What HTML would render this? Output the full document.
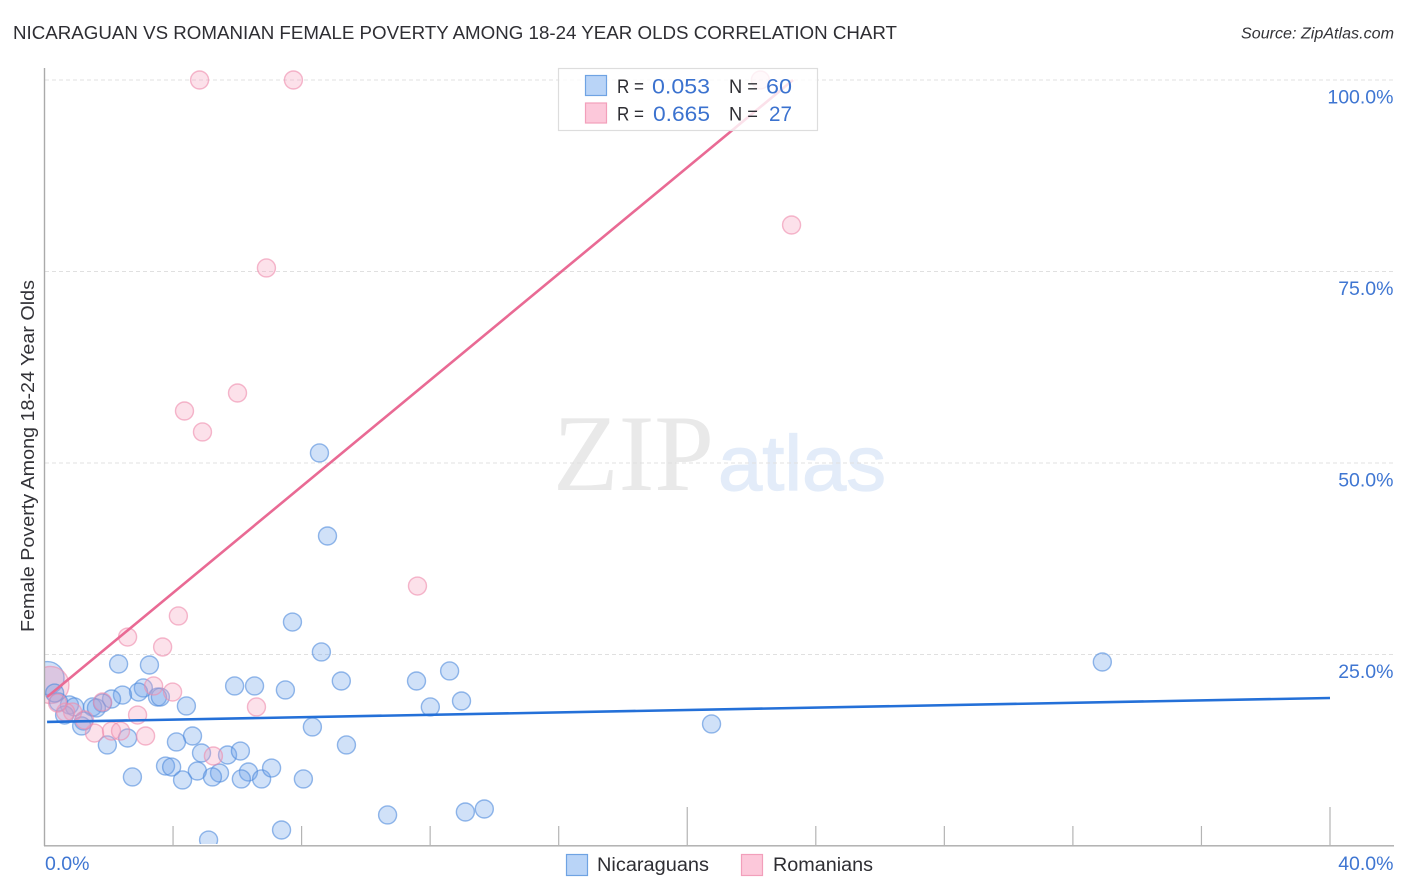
<!DOCTYPE html>
<html lang="en">
<head>
<meta charset="utf-8">
<title>Nicaraguan vs Romanian Female Poverty Among 18-24 Year Olds Correlation Chart</title>
<style>
html,body{margin:0;padding:0;background:#fff;}
svg{display:block;font-family:"Liberation Sans",sans-serif;}
</style>
</head>
<body>
<svg id="chart" xmlns="http://www.w3.org/2000/svg" width="1406" height="892" viewBox="0 0 1406 892">
  <defs>
    <clipPath id="plot-clip"><rect x="45" y="60" width="1349" height="784"/></clipPath>
  </defs>
  <rect x="0" y="0" width="1406" height="892" fill="#ffffff"/>
  <text x="13" y="39" font-size="18.5" fill="#2e2e33" textLength="884" lengthAdjust="spacingAndGlyphs">NICARAGUAN VS ROMANIAN FEMALE POVERTY AMONG 18-24 YEAR OLDS CORRELATION CHART</text>
  <text x="1241" y="38.5" font-size="15.5" font-style="italic" fill="#333338" textLength="153" lengthAdjust="spacingAndGlyphs">Source: ZipAtlas.com</text>

  <g>
    <text x="553" y="490" font-family="'Liberation Serif',serif" font-size="109" fill="#e9e9e9" textLength="161" lengthAdjust="spacingAndGlyphs">ZIP</text>
    <text x="718" y="490" font-size="78" fill="#e3ecf9" stroke="#e3ecf9" stroke-width="1.2" textLength="168" lengthAdjust="spacingAndGlyphs">atlas</text>
  </g>

  <g id="grid-layer"></g>
  <g id="points-layer" clip-path="url(#plot-clip)"></g>
  <g id="trend-layer"></g>
  <g id="axis-layer"></g>

  <text transform="translate(34,456) rotate(-90)" font-size="18" fill="#333338" text-anchor="middle" textLength="352" lengthAdjust="spacingAndGlyphs">Female Poverty Among 18-24 Year Olds</text>

  <g>
    <rect x="558.5" y="68.5" width="259" height="62" fill="#ffffff" fill-opacity="0.8" stroke="#dddddd" stroke-width="1.2"/>
    <rect x="585.5" y="75.5" width="21" height="20" fill="#b9d4f7" stroke="#6fa3e3" stroke-width="1.2"/>
    <rect x="585.5" y="103" width="21" height="20" fill="#fcc8da" stroke="#f29fbb" stroke-width="1.2"/>
    <text x="617" y="93" font-size="19" fill="#2e2e33" textLength="27" lengthAdjust="spacingAndGlyphs">R =</text>
    <text x="652" y="93.5" font-size="21.5" fill="#3b72cf" textLength="58" lengthAdjust="spacingAndGlyphs">0.053</text>
    <text x="729" y="93" font-size="19" fill="#2e2e33" textLength="29" lengthAdjust="spacingAndGlyphs">N =</text>
    <text x="766" y="93.5" font-size="21.5" fill="#3b72cf" textLength="26" lengthAdjust="spacingAndGlyphs">60</text>
    <text x="617" y="120.5" font-size="19" fill="#2e2e33" textLength="27" lengthAdjust="spacingAndGlyphs">R =</text>
    <text x="653" y="121" font-size="21.5" fill="#3b72cf" textLength="57" lengthAdjust="spacingAndGlyphs">0.665</text>
    <text x="729" y="120.5" font-size="19" fill="#2e2e33" textLength="29" lengthAdjust="spacingAndGlyphs">N =</text>
    <text x="769" y="121" font-size="21.5" fill="#3b72cf" textLength="23" lengthAdjust="spacingAndGlyphs">27</text>
  </g>

  <g>
    <rect x="566.5" y="854.5" width="21" height="21" fill="#b9d4f7" stroke="#6fa3e3" stroke-width="1.2"/>
    <text x="597" y="871" font-size="19" fill="#2e2e33" textLength="112" lengthAdjust="spacingAndGlyphs">Nicaraguans</text>
    <rect x="741.5" y="854.5" width="21" height="21" fill="#fcc8da" stroke="#f29fbb" stroke-width="1.2"/>
    <text x="773" y="871" font-size="19" fill="#2e2e33" textLength="100" lengthAdjust="spacingAndGlyphs">Romanians</text>
  </g>
</svg>
<script>
const nicaraguanX = [7.70,8.60,2.29,3.25,9.22,5.90,6.52,7.48,3.06,2.91,2.41,2.07,1.79,3.50,3.59,4.40,1.48,1.60,0.76,0.92,0.42,0.30,0.61,1.20,1.14,1.94,2.57,8.32,9.38,4.59,4.09,4.87,5.68,6.08,3.75,3.94,4.74,5.43,5.21,4.28,2.72,6.33,6.11,6.74,7.05,8.04,7.36,5.09,8.54,8.79,32.90,20.74,11.56,12.59,11.99,12.96,10.66,13.08,13.67];
const nicaraguanY = [29.24,25.33,23.76,23.63,21.54,20.89,20.89,20.37,20.63,20.10,19.71,19.19,18.67,19.45,19.45,18.28,18.15,18.02,18.41,18.15,18.80,19.97,17.10,16.32,15.67,13.19,14.10,15.54,13.19,14.36,13.58,12.14,11.88,12.40,10.44,10.31,9.79,9.53,9.01,8.62,9.01,9.66,8.75,8.75,10.18,8.75,2.09,0.78,51.31,40.47,24.02,15.93,21.54,22.85,18.15,18.93,4.05,4.44,4.83];
const romanianX = [4.81,7.73,22.26,23.23,6.89,5.99,4.34,4.90,11.59,4.15,2.57,3.66,3.38,3.97,6.58,2.88,3.13,1.54,2.07,2.35,5.24,1.79,1.23,0.86,0.64,0.39];
const romanianY = [100,100,100,81.07,75.46,59.14,56.79,54.05,33.94,30.03,27.28,25.98,20.89,20.10,18.15,17.10,14.36,14.75,15.01,15.01,11.75,18.80,16.45,17.49,17.49,18.67];
const nicaraguanLargeSampleX = [0.08];
const nicaraguanLargeSampleY = [21.93];
const romanianLargeSampleX = [0.17];
const romanianLargeSampleY = [21.02];
const nicaraguanTrendX = [0.08,40];
const nicaraguanTrendY = [16.19,19.32];
const romanianTrendX = [0.08,23.29];
const romanianTrendY = [19.45,100];
const yTickValues = [25,50,75,100];
const yTickLabels = ['25.0%','50.0%','75.0%','100.0%'];
const xTickValues = [4,8,12,16,20,24,28,32,36,40];
const xLongTickValues = [20,40];
const xEndValues = [0,40];
const xEndLabels = ['0.0%','40.0%'];

const SVG_NS = 'http://www.w3.org/2000/svg';
function xPos(v){ return 44.5 + v * (1330 - 44.5) / 40; }
function yPos(v){ return 846 - v * 7.66; }
function make(tag, parent, attrs){
  const el = document.createElementNS(SVG_NS, tag);
  Object.keys(attrs).forEach(function(k){ el.setAttribute(k, attrs[k]); });
  parent.appendChild(el);
  return el;
}
const gridLayer = document.getElementById('grid-layer');
const pointsLayer = document.getElementById('points-layer');
const trendLayer = document.getElementById('trend-layer');
const axisLayer = document.getElementById('axis-layer');

yTickValues.forEach(function(v, i){
  const line = make('line', gridLayer, {x1:45, x2:1394, y1:yPos(v), y2:yPos(v), stroke:'#e0e0e0', 'stroke-width':1, 'stroke-dasharray':'4 3'});
  
  
  const label = make('text', axisLayer, {x:1393.5, y:yPos(v) + 23.5, 'font-size':19.5, fill:'#3f76d2', 'text-anchor':'end'});
  
  
  label.textContent = yTickLabels[i];
});

function drawPoints(xs, ys, radius, fill, stroke, name){
  xs.forEach(function(x, i){
    const c = make('circle', pointsLayer, {cx:xPos(x) + 0.5, cy:yPos(ys[i]), r:radius, fill:fill, 'fill-opacity':0.32, stroke:stroke, 'stroke-opacity':0.6, 'stroke-width':1.4});
    
    
  });
}
drawPoints(nicaraguanLargeSampleX, nicaraguanLargeSampleY, 16.5, '#6ea3ea', '#4f8bdc', 'nicaraguan-large');
drawPoints(romanianLargeSampleX, romanianLargeSampleY, 18.5, '#f290b0', '#ee8aab', 'romanian-large');
drawPoints(nicaraguanX, nicaraguanY, 9, '#6ea3ea', '#4f8bdc', 'nicaraguan');
drawPoints(romanianX, romanianY, 9, '#f7a3bd', '#ee8aab', 'romanian');

const nicaraguanTrend = make('line', trendLayer, {x1:xPos(nicaraguanTrendX[0]), y1:yPos(nicaraguanTrendY[0]), x2:xPos(nicaraguanTrendX[1]), y2:yPos(nicaraguanTrendY[1]), stroke:'#2470d8', 'stroke-width':2.6});


const romanianTrend = make('line', trendLayer, {x1:xPos(romanianTrendX[0]), y1:yPos(romanianTrendY[0]), x2:xPos(romanianTrendX[1]), y2:yPos(romanianTrendY[1]), stroke:'#e96a94', 'stroke-width':2.6});



const yAxisLine = make('line', axisLayer, {x1:44.5, x2:44.5, y1:68, y2:846, stroke:'#aaaaaa', 'stroke-width':1.4});


const xAxisLine = make('line', axisLayer, {x1:44, x2:1394, y1:845.8, y2:845.8, stroke:'#aaaaaa', 'stroke-width':1.4});



xTickValues.forEach(function(v){
  const top = xLongTickValues.indexOf(v) >= 0 ? 807 : 826;
  const tick = make('line', axisLayer, {x1:xPos(v), x2:xPos(v), y1:top, y2:846, stroke:'#b4b4b4', 'stroke-width':1.2});
  
  
});

xEndValues.forEach(function(v, i){
  const isFirst = i === 0;
  const label = make('text', axisLayer, {x:isFirst ? xPos(v) + 0.5 : 1393.5, y:870, 'font-size':19.5, fill:'#3f76d2', 'text-anchor':isFirst ? 'start' : 'end'});
  
  
  label.textContent = xEndLabels[i];
});
</script>
</body>
</html>
